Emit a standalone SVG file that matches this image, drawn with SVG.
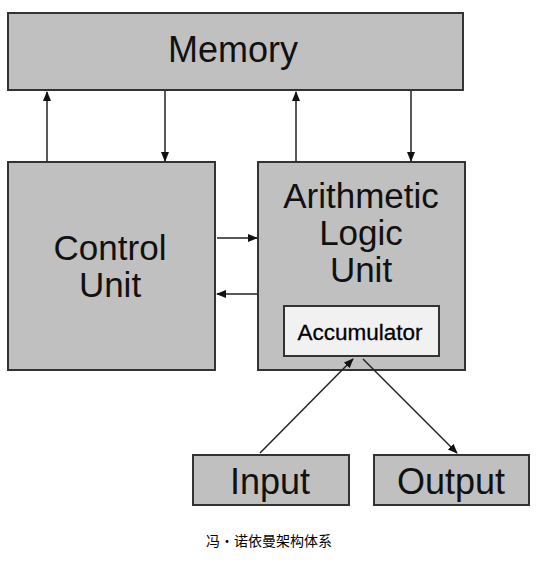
<svg xmlns="http://www.w3.org/2000/svg" width="547" height="562" viewBox="0 0 547 562">
<defs>
<style>
.box{fill:#c0c0c0;stroke:#333;stroke-width:2}
.acc{fill:#f1f1f1;stroke:#333;stroke-width:2}
.t{font-family:"Liberation Sans",Arial,sans-serif;font-size:36px;fill:#111;text-anchor:middle}
.m{font-size:35px}
.s{font-family:"Liberation Sans",Arial,sans-serif;font-size:22.5px;fill:#000;text-anchor:middle;stroke:#000;stroke-width:0.3}
.cap{font-family:"Noto Sans CJK SC",sans-serif;font-size:14px;fill:#000;text-anchor:middle}
.c{stroke:#222;stroke-width:1.5;fill:none;marker-end:url(#ah)}
</style>
<marker id="ah" markerWidth="10" markerHeight="10" refX="9" refY="4" orient="auto" markerUnits="userSpaceOnUse">
<path d="M0,0 L10,4 L0,8 Z" fill="#111"/>
</marker>
</defs>
<rect width="547" height="562" fill="#fff"/>
<g id="memory"><rect class="box" x="8" y="13" width="455" height="77"/><text class="t" x="233" y="62">Memory</text></g>
<g id="control"><rect class="box" x="8" y="162" width="207" height="208"/><text class="t m" x="110" y="260">Control</text><text class="t m" x="110" y="297">Unit</text></g>
<g id="alu"><rect class="box" x="258" y="162" width="207" height="208"/><text class="t m" x="361" y="208">Arithmetic</text><text class="t m" x="361" y="245">Logic</text><text class="t m" x="361" y="282">Unit</text></g>
<g id="accumulator"><rect class="acc" x="284" y="306" width="155" height="50"/><text class="s" x="360" y="340">Accumulator</text></g>
<g id="input"><rect class="box" x="193" y="455" width="156" height="50"/><text class="t" x="270" y="494">Input</text></g>
<g id="output"><rect class="box" x="374" y="455" width="155" height="50"/><text class="t" x="451" y="494">Output</text></g>
<g id="connectors">
<line class="c" x1="47" y1="161" x2="47" y2="92"/>
<line class="c" x1="165" y1="91" x2="165" y2="161"/>
<line class="c" x1="296" y1="161" x2="296" y2="92"/>
<line class="c" x1="411" y1="91" x2="411" y2="161"/>
<line class="c" x1="217" y1="238" x2="257" y2="238"/>
<line class="c" x1="257" y1="294" x2="217" y2="294"/>
<line class="c" x1="260" y1="453" x2="353" y2="359"/>
<line class="c" x1="363" y1="359" x2="457" y2="453"/>
</g>
<text class="cap" x="269" y="546">冯・诺依曼架构体系</text>
</svg>
